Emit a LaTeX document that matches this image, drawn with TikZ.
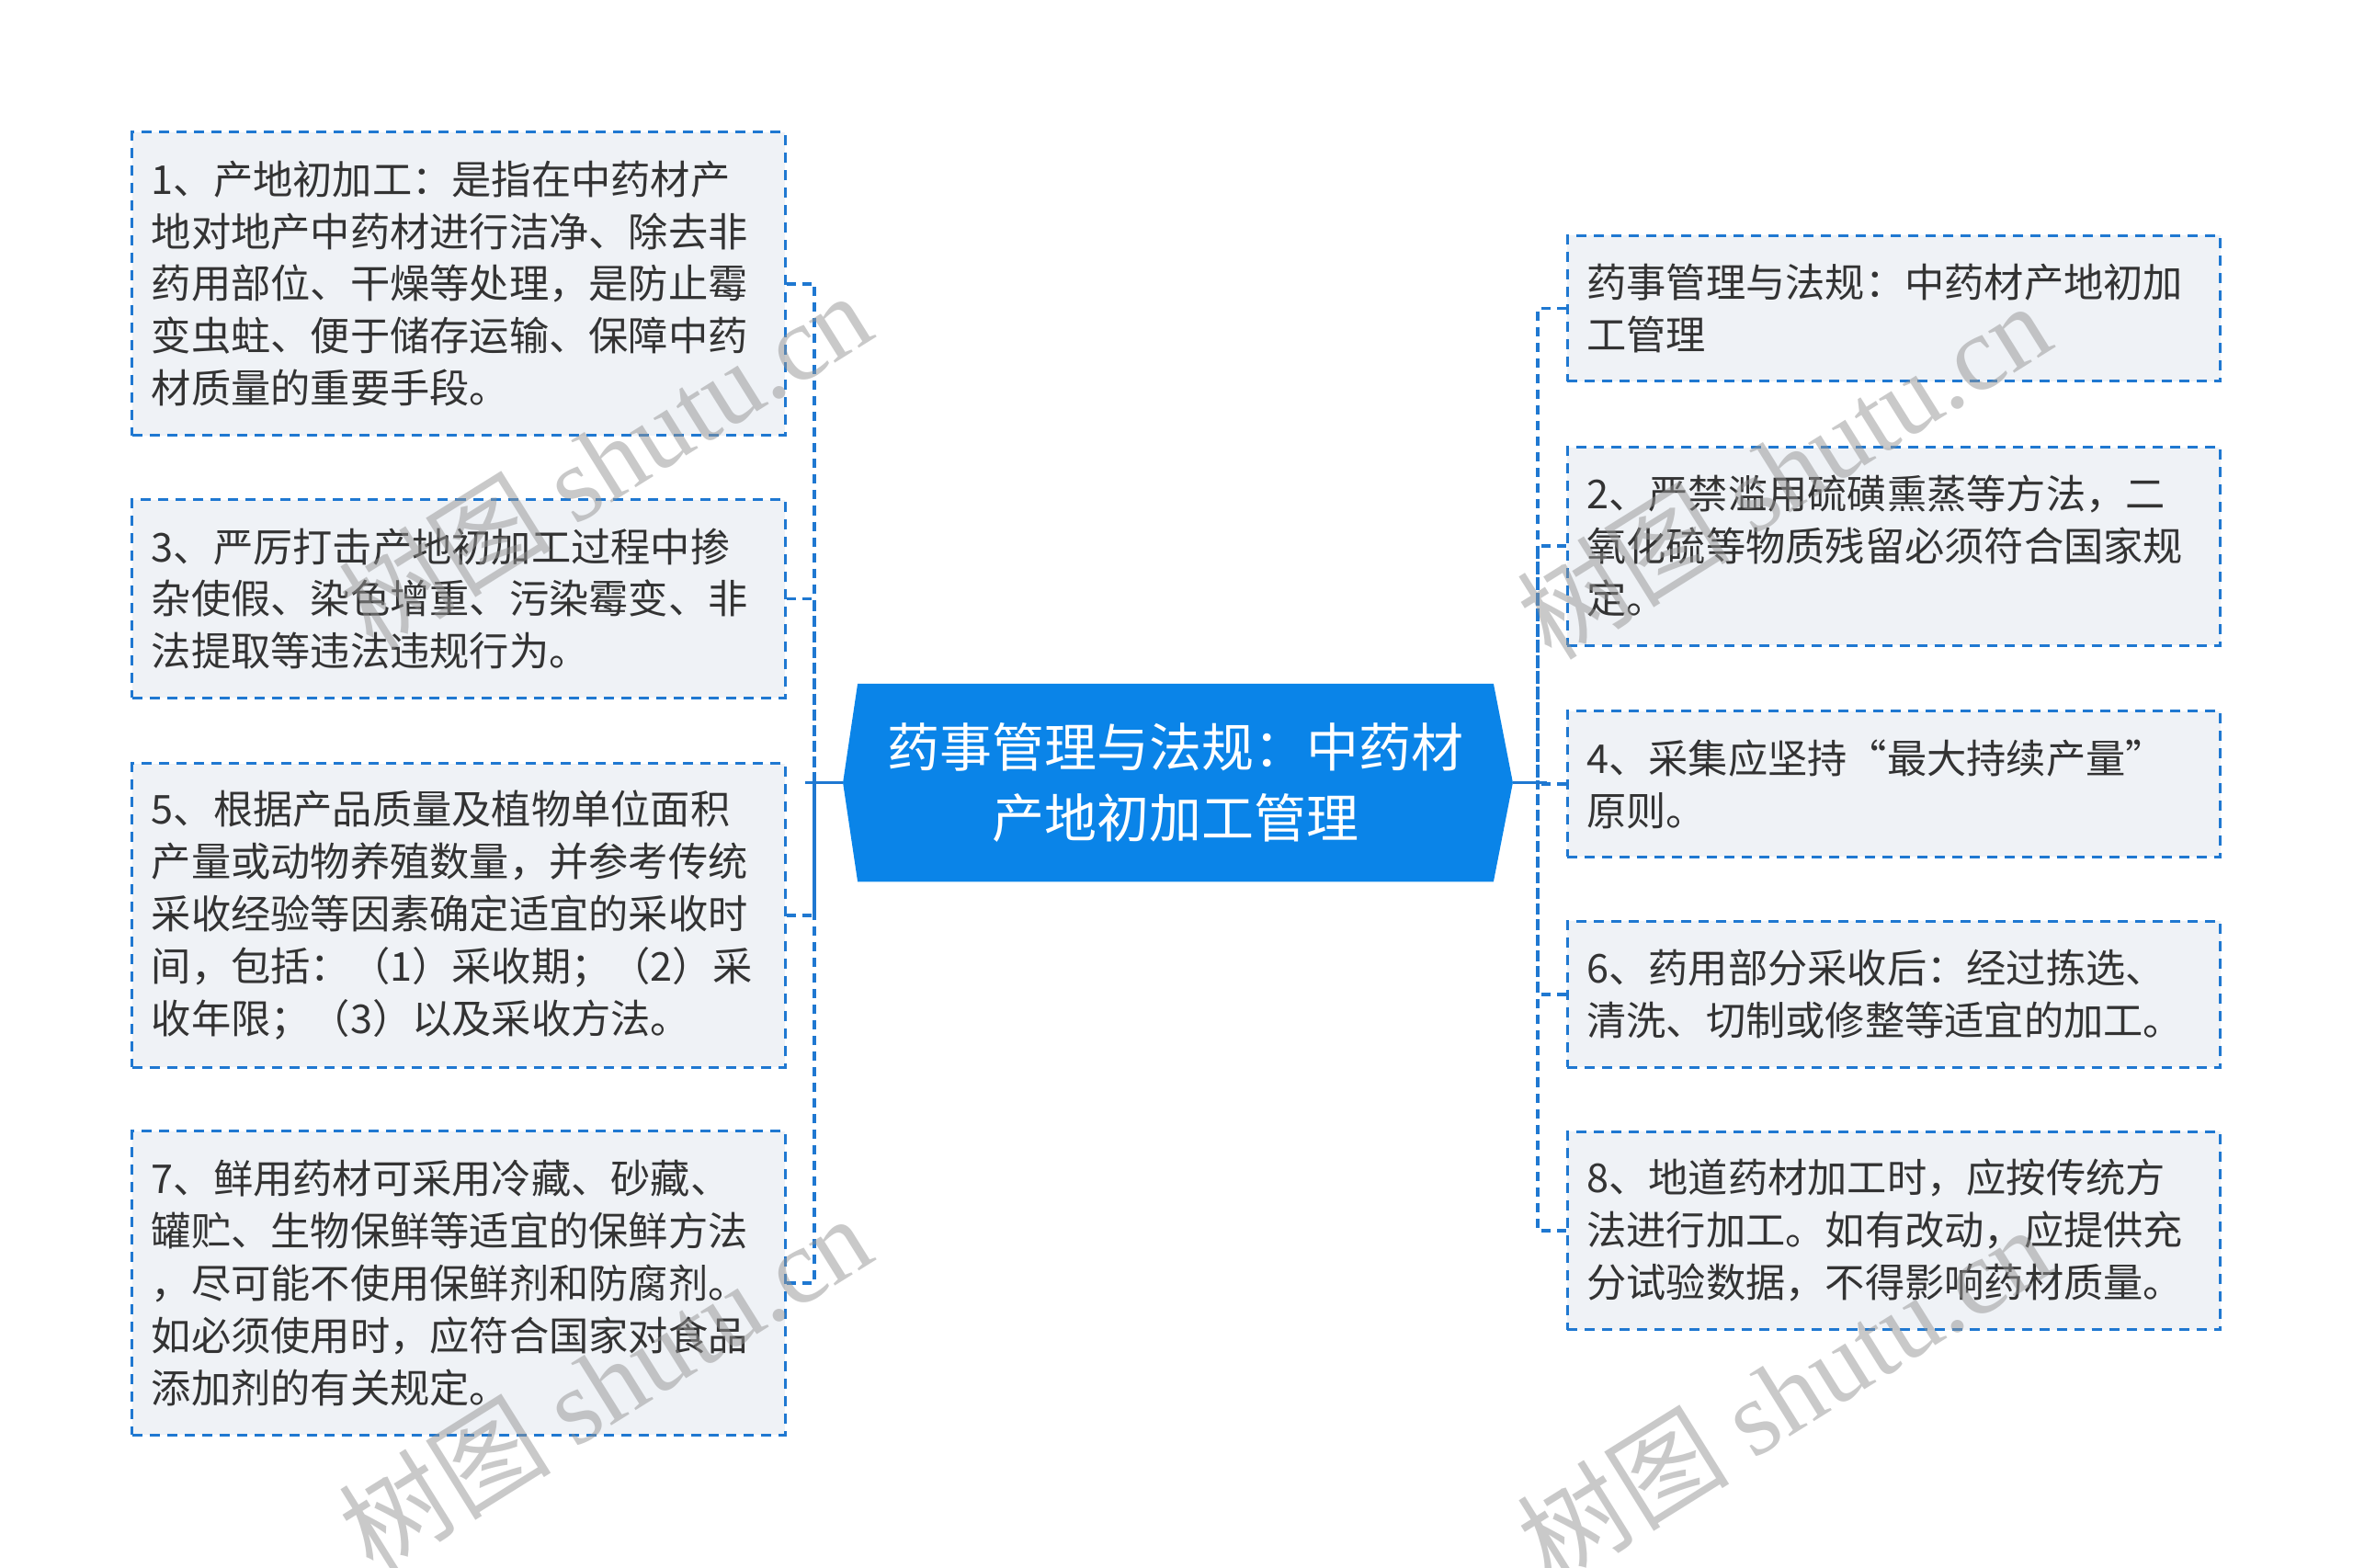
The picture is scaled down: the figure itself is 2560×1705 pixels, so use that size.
\documentclass[tikz,border=0pt]{standalone}
\usepackage{fontspec}
\setmainfont{Noto Sans CJK SC}
\newfontfamily\wmfont{Liberation Serif}
\usetikzlibrary{backgrounds}
\definecolor{rootblue}{RGB}{10,132,232}
\definecolor{lineblue}{RGB}{31,120,209}
\definecolor{boxfill}{RGB}{239,242,246}
\definecolor{textgray}{RGB}{51,51,51}
\tikzset{
  leaf/.style={draw=lineblue, line width=0.85pt, dash pattern=on 0.11cm off 0.08cm,
    fill=boxfill, text=textgray, minimum width=7.1cm, text width=6.68cm,
    inner xsep=0.21cm, align=left, font=\fontsize{12.3pt}{16.2pt}\selectfont},
  root/.style={minimum width=6.9cm, minimum height=2.14cm, text=white, align=center,
    font=\fontsize{16.2pt}{21.9pt}\selectfont},
  link/.style={lineblue, line width=1.1pt, dash pattern=on 0.1cm off 0.07cm},
  stem/.style={lineblue, line width=1.1pt},
  wmark/.style={text=black!42, text opacity=0.5, rotate=32, font=\fontsize{33pt}{33pt}\selectfont}
}
\begin{document}
\begin{tikzpicture}[x=0.01cm, y=-0.01cm]
\useasboundingbox (0,0) rectangle (2560,1705);
%画布大小与原图一致(2560x1705)
\node[root] (root) at (1279,851.5) {药事管理与法规：中药材\\产地初加工管理};
%中心主题
\coordinate (ltip) at ([xshift=-0.16cm]root.west);
\coordinate (rtip) at ([xshift=0.21cm]root.east);
\begin{scope}[on background layer]
\fill[rootblue] (root.north west) -- (root.north east) -- (rtip) -- (root.south east) -- (root.south west) -- (ltip) -- cycle;
\end{scope}
%中心主题的六边形底色
\node[leaf, minimum height=3.3cm] (b1) at (499,308.6) {1、产地初加工：是指在中药材产\\地对地产中药材进行洁净、除去非\\药用部位、干燥等处理，是防止霉\\变虫蛀、便于储存运输、保障中药\\材质量的重要手段。};
\node[leaf, minimum height=2.155cm] (b3) at (499,651.5) {3、严厉打击产地初加工过程中掺\\杂使假、染色增重、污染霉变、非\\法提取等违法违规行为。};
\node[leaf, minimum height=3.3cm] (b5) at (499,996) {5、根据产品质量及植物单位面积\\产量或动物养殖数量，并参考传统\\采收经验等因素确定适宜的采收时\\间，包括：（1）采收期；（2）采\\收年限；（3）以及采收方法。};
\node[leaf, minimum height=3.3cm] (b7) at (499,1396) {7、鲜用药材可采用冷藏、砂藏、\\罐贮、生物保鲜等适宜的保鲜方法\\，尽可能不使用保鲜剂和防腐剂。\\如必须使用时，应符合国家对食品\\添加剂的有关规定。};
%左侧分支
\node[leaf, minimum height=1.585cm] (r0) at (2060.5,335.5) {药事管理与法规：中药材产地初加\\工管理};
\node[leaf, minimum height=2.155cm] (r2) at (2060.5,594.3) {2、严禁滥用硫磺熏蒸等方法，二\\氧化硫等物质残留必须符合国家规\\定。};
\node[leaf, minimum height=1.585cm] (r4) at (2060.5,853) {4、采集应坚持“最大持续产量”\\原则。};
\node[leaf, minimum height=1.585cm] (r6) at (2060.5,1081.7) {6、药用部分采收后：经过拣选、\\清洗、切制或修整等适宜的加工。};
\node[leaf, minimum height=2.155cm] (r8) at (2060.5,1338.8) {8、地道药材加工时，应按传统方\\法进行加工。如有改动，应提供充\\分试验数据，不得影响药材质量。};
%右侧分支
\coordinate (lspine) at (886,851.5);
\coordinate (rspine) at (1673,851.5);
\draw[stem] (ltip) -- ([xshift=-0.1cm]lspine);
\draw[stem] (rtip) -- ([xshift=0.1cm]rspine);
\foreach \b in {b1,b3,b5,b7} {\draw[link] (\b.east) -| (lspine);}
\foreach \b in {r0,r2,r4,r6,r8} {\draw[link] (\b.west) -| (rspine);}
%连线:分支到中心主题
\foreach \p/\n in {{(658,500)}/w1, {(658,1504)}/w2, {(1940,511)}/w3, {(1940,1516)}/w4}
  {\node[wmark] (\n) at \p {树图 {\wmfont shutu.cn}};}
%水印
\end{tikzpicture}
\end{document}
